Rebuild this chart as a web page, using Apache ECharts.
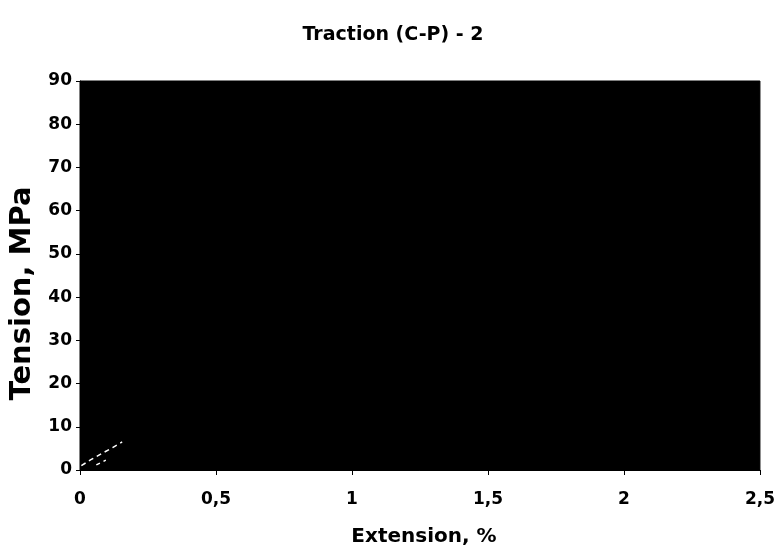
<!DOCTYPE html>
<html><head><meta charset="utf-8">
<script src="https://cdn.jsdelivr.net/npm/echarts@6/dist/echarts.min.js"></script>
<style>html,body{margin:0;padding:0;background:#fff}#c{width:778px;height:552px}</style>
</head><body><div id="c"></div>
<script>
var xTicks = [0, 0.5, 1, 1.5, 2, 2.5];
var yTicks = [0, 10, 20, 30, 40, 50, 60, 70, 80, 90];
// visible (white) part of the curve near the origin
var curveX = [0.005, 0.04, 0.08, 0.12, 0.155];
var curveY = [1.0, 2.4, 3.8, 5.2, 6.5];
var curve2X = [0.06, 0.08, 0.095];
var curve2Y = [1.2, 1.8, 2.3];

var chart = echarts.init(document.getElementById('c'), null, {renderer: 'canvas'});
var font = '"DejaVu Sans", "Liberation Sans", Arial, sans-serif';
chart.setOption({
  animation: false,
  backgroundColor: '#fff',
  title: {
    text: 'Traction (C-P) - 2', left: 388, top: 21, textAlign: 'center',
    textStyle: {fontFamily: font, fontWeight: 'bold', fontSize: 19, color: '#000'}
  },
  grid: {left: 80, right: 17, top: 81, bottom: 82, show: true, backgroundColor: '#000', borderColor: '#000', borderWidth: 1},
  xAxis: {
    type: 'value', min: 0, max: 2.5, interval: 0.5,
    name: 'Extension, %', nameLocation: 'middle', nameGap: 57,
    nameTextStyle: {fontFamily: font, fontWeight: 'bold', fontSize: 20, color: '#000', padding: [0, 0, 0, 8]},
    axisLine: {show: true, lineStyle: {color: '#000', width: 1}},
    axisTick: {show: true, length: 5, lineStyle: {color: '#000'}},
    splitLine: {show: false},
    axisLabel: {fontFamily: font, fontWeight: 'bold', fontSize: 17, color: '#000', margin: 21,
      formatter: function(v){ return String(v).replace('.', ','); }}
  },
  yAxis: {
    type: 'value', min: 0, max: 90, interval: 10,
    name: 'Tension, MPa', nameLocation: 'middle', nameGap: 34,
    nameTextStyle: {fontFamily: font, fontWeight: 'bold', fontSize: 29, color: '#000', padding: [0, 36, 0, 0]},
    axisLine: {show: true, lineStyle: {color: '#000', width: 1}},
    axisTick: {show: true, length: 4, lineStyle: {color: '#000'}},
    splitLine: {show: false},
    axisLabel: {fontFamily: font, fontWeight: 'bold', fontSize: 17, color: '#000', margin: 8}
  },
  series: [
    {type: 'line', data: curveX.map(function(x, i){ return [x, curveY[i]]; }),
     showSymbol: false, lineStyle: {color: '#fff', width: 1.5, type: [5, 4]}},
    {type: 'line', data: curve2X.map(function(x, i){ return [x, curve2Y[i]]; }),
     showSymbol: false, lineStyle: {color: '#fff', width: 1.5, type: [4, 4]}}
  ]
});
</script></body></html>
